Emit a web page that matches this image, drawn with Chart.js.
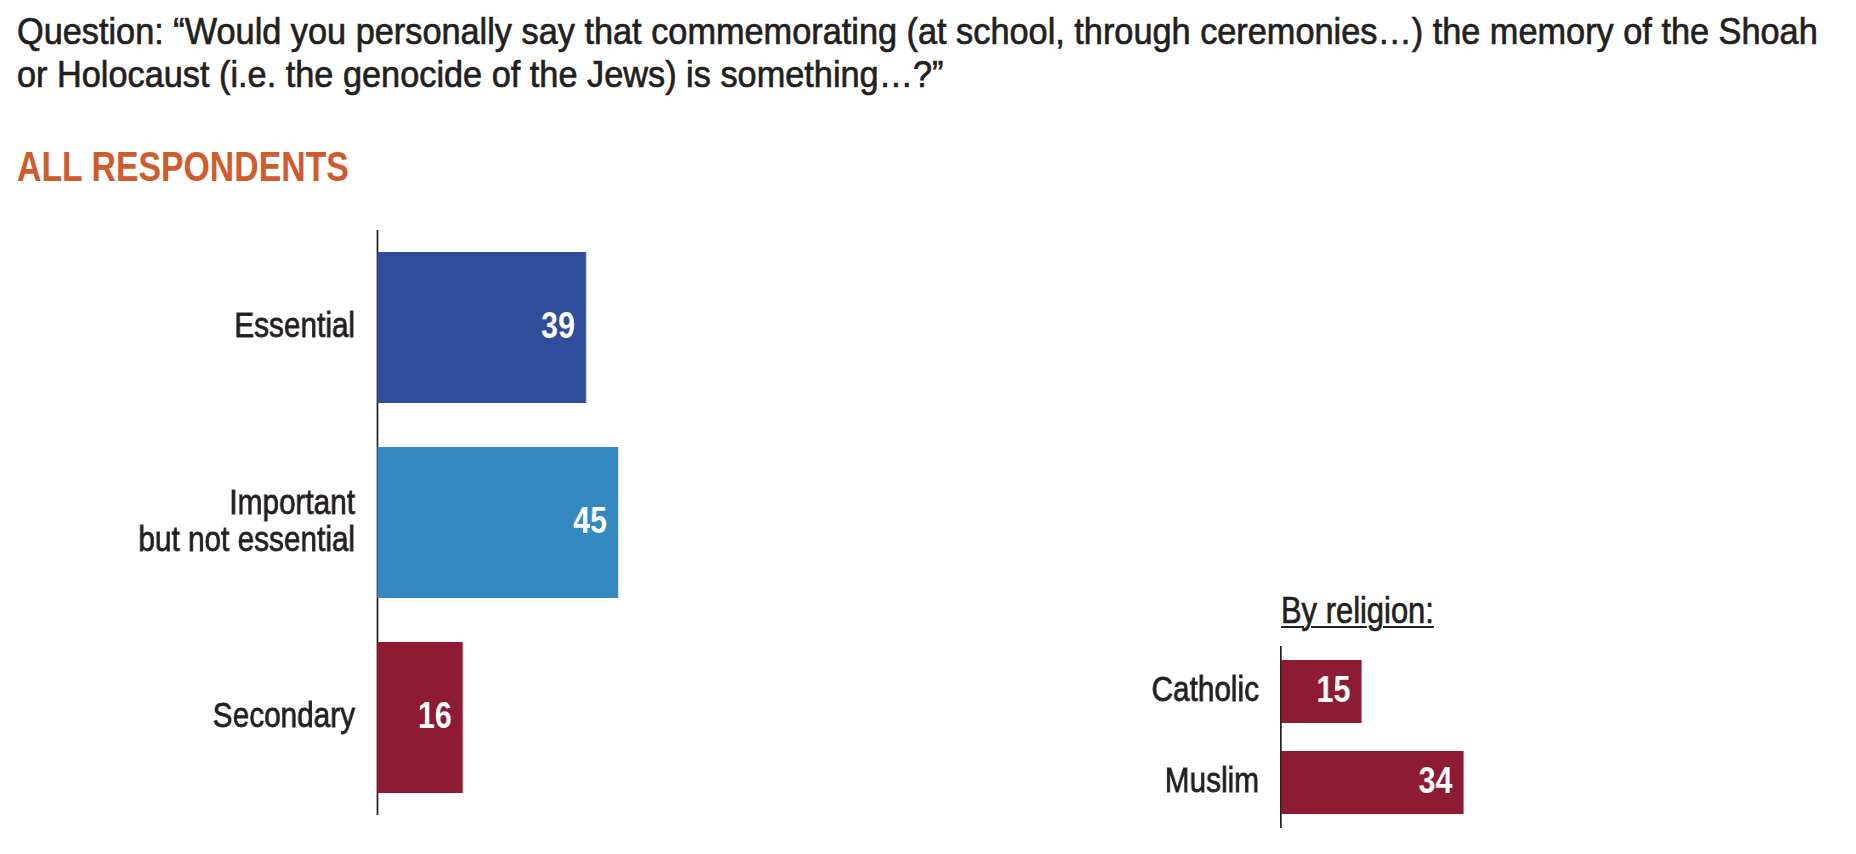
<!DOCTYPE html>
<html>
<head>
<meta charset="utf-8">
<script src="https://cdn.jsdelivr.net/npm/chart.js@4.4.1/dist/chart.umd.min.js"></script>
<style>
  body { margin: 0; background: #fff; width: 1856px; height: 854px; overflow: hidden; position: relative; }
  .txt { position: absolute; font-family: "Liberation Sans", Arial, sans-serif; color: #231f20; white-space: nowrap; transform-origin: left top; -webkit-text-stroke: 0.7px #231f20; }
  #question { left: 17px; top: 10px; font-size: 37.7px; line-height: 43px; transform: scaleX(0.91); }
  #sub { left: 17px; top: 146px; font-size: 42px; line-height: 42px; font-weight: bold; color: #cf5b2e; -webkit-text-stroke: 0; transform: scaleX(0.805); }
  #byrel { left: 1281px; top: 592px; font-size: 37.7px; line-height: 37.7px; text-decoration: underline; text-decoration-thickness: 2px; text-underline-offset: 3px; transform: scaleX(0.82); }
  canvas { position: absolute; }
</style>
</head>
<body>
<div class="txt" id="question">Question: “Would you personally say that commemorating (at school, through ceremonies…) the memory of the Shoah<br>or Holocaust (i.e. the genocide of the Jews) is something…?”</div>
<div class="txt" id="sub">ALL RESPONDENTS</div>
<div class="txt" id="byrel">By religion:</div>
<canvas id="allChart"></canvas>
<canvas id="religionChart"></canvas>
<script>
const answers = [["Essential"], ["Important", "but not essential"], ["Secondary"]];
const answerValues = [39, 45, 16];
const answerColors = ["#2f4d9b", "#3389c0", "#8d1b34"];

const religions = ["Catholic", "Muslim"];
const religionValues = [15, 34];
const religionColors = ["#8d1b34", "#8d1b34"];

const fontFamily = '"Liberation Sans", Arial, sans-serif';
const squeeze = 0.85; // the original uses a condensed face, so the canvas is drawn wide and shown narrow

// white numbers at the end of each bar
const barValues = {
    id: 'barValues',
    afterDatasetsDraw(chart) {
        const ctx = chart.ctx;
        const meta = chart.getDatasetMeta(0);
        ctx.save();
        ctx.fillStyle = '#ffffff';
        ctx.font = 'bold 36px ' + fontFamily;
        ctx.textAlign = 'right';
        ctx.textBaseline = 'middle';
        meta.data.forEach((bar, i) => {
            ctx.fillText(chart.data.datasets[0].data[i], bar.x - 11 / squeeze, bar.y + 1);
        });
        ctx.restore();
    }
};

function makeChart(id, left, top, width, height, axisLeft, labels, values, colors, barPct) {
    const canvas = document.getElementById(id);
    canvas.width = Math.round(width / squeeze);
    canvas.height = height;
    canvas.style.left = left + 'px';
    canvas.style.top = top + 'px';
    canvas.style.width = width + 'px';
    canvas.style.height = height + 'px';
    const axisWidth = (axisLeft - left) / squeeze;

    return new Chart(canvas, {
        type: 'bar',
        data: {
            labels: labels,
            datasets: [{
                data: values,
                backgroundColor: colors,
                borderWidth: 0,
                barPercentage: barPct,
                categoryPercentage: 1
            }]
        },
        options: {
            indexAxis: 'y',
            responsive: false,
            animation: false,
            devicePixelRatio: 1,
            layout: { padding: 0 },
            scales: {
                x: {
                    display: false,
                    min: 0,
                    max: 100
                },
                y: {
                    afterFit(scale) {
                        scale.width = axisWidth;
                        scale.paddingTop = 0;
                        scale.paddingBottom = 0;
                    },
                    grid: { display: false, drawTicks: false },
                    border: { display: true, color: '#231f20', width: 2 },
                    ticks: {
                        padding: 22 / squeeze,
                        color: '#231f20',
                        textStrokeColor: '#231f20',
                        textStrokeWidth: 0.8,
                        font: { family: fontFamily, size: 35, lineHeight: 1.057 }
                    }
                }
            },
            plugins: {
                legend: { display: false },
                tooltip: { enabled: false }
            }
        },
        plugins: [barValues]
    });
}

makeChart('allChart', 0, 230, 913, 585, 377, answers, answerValues, answerColors, 0.774);
makeChart('religionChart', 1081, 646, 737, 182, 1281, religions, religionValues, religionColors, 0.69);
</script>
</body>
</html>
